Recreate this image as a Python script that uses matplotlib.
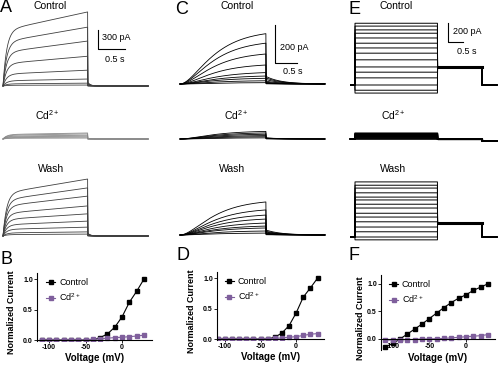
import numpy as np
import matplotlib
matplotlib.use('Agg')
import matplotlib.pyplot as plt

plt.rcParams['font.family'] = ['Liberation Sans', 'DejaVu Sans']
plt.rcParams['mathtext.default'] = 'regular'
plt.rcParams['axes.unicode_minus'] = False

# steady-state amplitude of each sweep (pA)
A_ctrl_amp = [1170, 930, 710, 470, 250, 110, 45, 15]
A_cd_amp = [95, 80, 60, 45, 30, 15]
A_wash_amp = [900, 760, 630, 475, 350, 235, 140, 65, 30]
C_ctrl_amp = [265, 215, 158, 100, 60, 42, 30, 17, 7]
C_cd_amp = [40, 32, 25, 18, 12, 6]
C_wash_amp = [174, 132, 105, 84, 63, 47, 37, 21, 10]
E_ctrl_amp = [650, 620, 580, 545, 495, 440, 390, 335, 265, 190, 135, 75, 0, -55, -85]
E_cd_amp = [60, 50, 40, 30, 20, 10, 0]
E_wash_amp = [580, 545, 515, 465, 420, 390, 345, 305, 250, 210, 160, 105, 55, 0, -30]
# E: level during the second step, and after it
E_tail = {'ctrl': 190, 'cd': 0, 'wash': 150}
E_post = {'ctrl': 0, 'cd': -20, 'wash': 0}

# I-V curves
volts = [-110, -100, -90, -80, -70, -60, -50, -40, -30, -20, -10, 0, 10, 20, 30]
B_ctrl = [0, 0, 0, 0, 0, 0, 0, 0, 0.04, 0.10, 0.21, 0.38, 0.62, 0.80, 1.0]
B_cd = [0, 0, 0, 0, 0, 0, 0, 0.01, 0.02, 0.03, 0.04, 0.045, 0.055, 0.065, 0.08]
D_ctrl = [0, 0, 0, 0, 0, 0, 0, 0, 0.03, 0.10, 0.22, 0.43, 0.69, 0.84, 1.0]
D_cd = [0, 0, 0, 0, 0, 0, 0, 0.005, 0.01, 0.02, 0.03, 0.04, 0.06, 0.08, 0.09]
F_ctrl = [-0.15, -0.08, 0.0, 0.09, 0.18, 0.27, 0.37, 0.47, 0.57, 0.66, 0.74, 0.80, 0.88, 0.94, 1.0]
F_cd = [-0.02, -0.02, -0.015, -0.01, -0.01, 0, 0, 0.005, 0.01, 0.02, 0.03, 0.04, 0.05, 0.06, 0.08]

CD_COLOR = '#7f5f9c'
W, H = 499, 365
fig = plt.figure(figsize=(W / 100, H / 100), dpi=100)


def px_axes(x0, y0, x1, y1):
    return fig.add_axes([x0 / W, 1 - y1 / H, (x1 - x0) / W, (y1 - y0) / H])


def ptext(x, y, s, **kw):
    kw.setdefault('ha', 'center')
    kw.setdefault('va', 'center')
    fig.text(x / W, 1 - y / H, s, **kw)


def trace_axes(box, ox, oy, pps, ppa):
    x0, y0, x1, y1 = box
    ax = px_axes(*box)
    ax.set_xlim((x0 - ox) / pps, (x1 - ox) / pps)
    ax.set_ylim((oy - y1) / ppa, (oy - y0) / ppa)
    ax.axis('off')
    return ax


def scalebar(ax, bx, by, ox, oy, pps, ppa, dt, di):
    t0 = (bx - ox) / pps
    i0 = (oy - by) / ppa
    ax.plot([t0, t0, t0 + dt], [i0 + di, i0, i0], color='k', lw=0.8, clip_on=False)


# ---- A: fast delayed rectifier ----
tA = np.linspace(0, 2.74, 600)
durA = 1.6


def shape_A(t):
    on = 0.75 * (1 - np.exp(-t / 0.07)) + 0.25 * t / durA
    off = 0.05 * np.exp(-(t - durA) / 0.05)
    return np.where(t < durA, on, off)


for amps, oy, col in [(A_ctrl_amp, 86, '#404040'), (A_cd_amp, 139, '#8a8a8a'), (A_wash_amp, 236, '#404040')]:
    ax = trace_axes((0, oy - 80, 150, oy + 5), 3, oy, 53, 19 / 300)
    for a in amps:
        ax.plot(tA, a * shape_A(tA), color=col, lw=0.6, clip_on=False)
    if oy == 86:
        scalebar(ax, 98, 49, 3, oy, 53, 19 / 300, 0.5, 300)

# ---- C: slow sigmoid activation ----
tC = np.linspace(0, 3.37, 600)
durC = 2.0
normC = (1 - np.exp(-durC / 0.6)) ** 2


def shape_C(t):
    on = (1 - np.exp(-t / 0.6)) ** 2 / normC
    off = 0.15 * np.exp(-(t - durC) / 0.35)
    return np.where(t < durC, on, off)


for amps, oy in [(C_ctrl_amp, 84), (C_cd_amp, 139), (C_wash_amp, 235)]:
    ax = trace_axes((170, oy - 80, 330, oy + 5), 180, oy, 43, 0.19)
    for a in amps:
        ax.plot(tC, a * shape_C(tC), color='k', lw=0.6, clip_on=False)
    if oy == 84:
        scalebar(ax, 275, 63, 180, oy, 43, 0.19, 0.5, 200)

# ---- E: non-inactivating, two-step protocol ----
tE = np.linspace(-0.15, 4.73, 1200)
durE = 2.75
endE = 4.23

for amps, oy, key, lw in [(E_ctrl_amp, 85, 'ctrl', 0.7), (E_cd_amp, 139, 'cd', 1.2), (E_wash_amp, 237, 'wash', 0.7)]:
    ax = trace_axes((345, oy - 80, 499, oy + 12), 355, oy, 30, 0.095)
    for a in amps:
        y = np.where(tE < 0, 0, np.where(tE < durE, a, np.where(tE < endE, E_tail[key], E_post[key])))
        ax.plot(tE, y, color='k', lw=lw, clip_on=False)
    # the second step is a thick band of overlapping sweeps
    seg = (tE >= durE) & (tE < endE)
    ax.plot(tE[seg], np.full(seg.sum(), E_tail[key]), color='k', lw=2.2 if key != 'cd' else 1.0,
            clip_on=False)
    if key == 'ctrl':
        scalebar(ax, 448, 42, 355, oy, 30, 0.095, 0.5, 200)

# ---- trace labels ----
lab = dict(fontsize=7.5)
for x in (50, 237, 396):
    ptext(x, 6, 'Control', **lab)
for x in (47, 236, 393):
    ptext(x, 115, 'Cd$^{2+}$', **lab)
for x in (51, 232, 393):
    ptext(x, 169, 'Wash', **lab)
sb = dict(fontsize=6.5, ha='left')
ptext(102, 38, '300 pA', **sb)
ptext(105, 60, '0.5 s', **sb)
ptext(280, 47, '200 pA', **sb)
ptext(283, 72, '0.5 s', **sb)
ptext(453, 32, '200 pA', **sb)
ptext(457, 52, '0.5 s', **sb)

letters = [('A', 6, 8), ('C', 182, 9), ('E', 355, 10), ('B', 6, 259), ('D', 183, 256), ('F', 354, 255)]
for s, x, y in letters:
    ptext(x, y, s, fontsize=13)


# ---- I-V panels ----
def iv_panel(box, xlim, ylim, ctrl, cd, ylab_x, xlab_y, leg_anchor):
    ax = px_axes(*box)
    ax.plot(volts, ctrl, color='k', marker='s', ms=3, lw=0.8, label='Control')
    ax.plot(volts, cd, color=CD_COLOR, marker='s', ms=3, lw=0.8, label='Cd$^{2+}$')
    ax.set_xlim(*xlim)
    ax.set_ylim(*ylim)
    ax.spines['top'].set_visible(False)
    ax.spines['right'].set_visible(False)
    ax.spines['bottom'].set_position(('data', 0))
    for sp in ('left', 'bottom'):
        ax.spines[sp].set_linewidth(0.8)
    ax.set_xticks([-100, -50, 0])
    ax.set_yticks([0.0, 0.5, 1.0])
    ax.set_yticklabels(['0.0', '0.5', '1.0'])
    ax.tick_params(length=2, width=0.6, pad=1, labelsize=5)
    for lbl in ax.get_xticklabels() + ax.get_yticklabels():
        lbl.set_fontweight('bold')
    ax.set_ylabel('Normalized Current', fontsize=6.5, fontweight='bold')
    ax.set_xlabel('Voltage (mV)', fontsize=7, fontweight='bold')
    ax.yaxis.set_label_coords(ylab_x, 0.42)
    ax.xaxis.set_label_coords(0.5, xlab_y)
    ax.legend(loc='upper left', bbox_to_anchor=leg_anchor, frameon=False, fontsize=6.5,
              handlelength=1.0, handletextpad=0.4, labelspacing=0.5, borderaxespad=0)
    return ax


iv_panel((37, 273, 152, 341), (-116.4, 41), (-0.016, 1.1), B_ctrl, B_cd, -0.18, -0.18, (0.05, 0.98))
iv_panel((217, 272, 324, 340), (-111, 39), (-0.015, 1.1), D_ctrl, D_cd, -0.2, -0.18, (0.04, 0.98))
iv_panel((381, 275, 495, 350), (-116, 39.7), (-0.2, 1.16), F_ctrl, F_cd, -0.14, -0.04, (0.04, 0.98))

fig.savefig('out.png', dpi=100)
